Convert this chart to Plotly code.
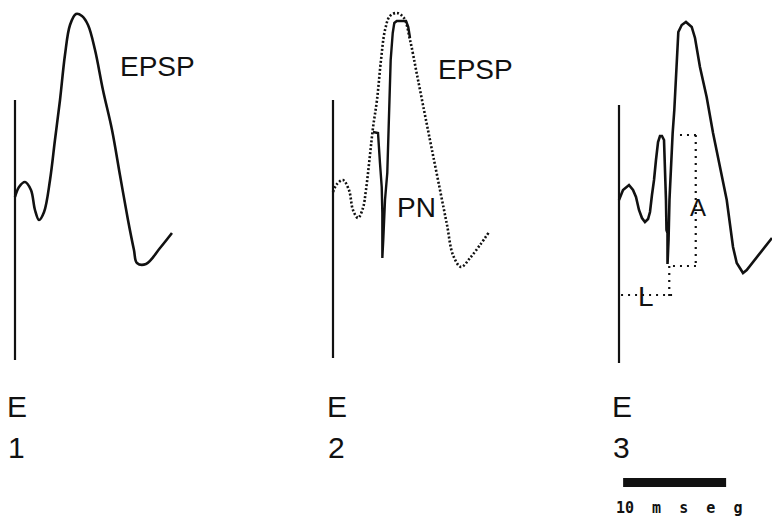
import plotly.graph_objects as go

# ---------------- data (time in ms from stimulus, potential in arbitrary mV) ----------------
# Panel 1: control EPSP
p1_t = [0.0, 0.39, 0.97, 1.55, 1.94, 2.33, 2.82, 3.40, 3.88, 4.37, 4.85, 5.34, 5.92, 6.50,
        7.09, 7.77, 8.54, 9.42, 10.19, 10.97, 11.55, 11.84, 12.72, 14.08, 15.24]
p1_v = [0.3, 1.3, 1.8, 1.0, -1.0, -2.0, -1.2, 2.0, 6.0, 10.0, 14.5, 17.5, 18.6, 18.4,
        17.5, 15.0, 11.0, 7.0, 2.5, -2.0, -5.0, -6.3, -6.4, -4.8, -3.3]

# Panel 2: control EPSP (dotted) and response with population spike PN (solid)
p2_ctrl_t = [0.0, 0.39, 0.97, 1.55, 1.94, 2.43, 2.91, 3.20, 3.59, 3.88, 4.27, 4.66, 5.05,
             5.53, 6.21, 6.89, 7.48, 8.16, 8.93, 9.61, 10.39, 11.07, 11.65, 12.43, 13.30,
             14.27, 15.15]
p2_ctrl_v = [0.8, 1.6, 2.0, 1.0, -1.0, -1.8, -0.8, 1.0, 4.5, 7.2, 10.0, 14.0, 17.0,
             18.4, 18.7, 18.2, 16.0, 12.5, 8.5, 5.0, 1.0, -2.5, -5.5, -6.7, -5.8,
             -4.5, -3.2]
p2_pn_t = [3.88, 4.37, 4.56, 4.73, 4.79, 4.79, 4.88, 5.05, 5.27, 5.37, 5.47, 5.60, 5.80,
           5.95, 6.19, 7.09, 7.31, 7.48]
p2_pn_v = [6.8, 6.7, 3.7, 1.3, -1.3, -5.8, -4.0, 0.0, 2.7, 5.7, 10.0, 14.0, 16.7,
           17.7, 17.9, 17.9, 17.3, 16.2]

# Panel 3: response used to define latency (L) and amplitude (A)
p3_t = [0.0, 0.39, 0.97, 1.36, 1.65, 1.94, 2.23, 2.52, 2.82, 3.01, 3.20, 3.40, 3.59, 3.79,
        3.98, 4.17, 4.37, 4.47, 4.56, 4.61, 4.71, 4.71, 4.81, 4.90, 5.05, 5.21, 5.37,
        5.60, 5.76, 6.09, 6.50, 7.06, 7.38, 7.86, 8.51, 9.13, 9.81, 10.46, 11.07, 11.43,
        12.04, 12.40, 14.85]
p3_v = [0.0, 1.0, 1.5, 1.0, 0.3, -1.0, -1.8, -2.2, -1.9, -1.2, 0.5, 2.0, 4.0, 5.8,
        6.4, 6.4, 6.0, 3.5, 0.0, -3.0, -3.3, -6.4, -4.0, 0.0, 4.0, 6.7, 9.0,
        14.0, 16.8, 17.5, 17.8, 17.3, 16.2, 13.3, 10.3, 6.7, 3.3, 0.0, -4.7, -6.3,
        -7.3, -7.0, -3.8]

# stimulus artefact lines (t = 0): [top, bottom] potentials
stim_v = {1: [10.0, -16.0], 2: [10.0, -15.8], 3: [9.5, -16.3]}

# measurement guides in panel 3
a_top_t, a_top_v = [5.92, 7.86], [6.5, 6.5]
a_vert_t, a_vert_v = [7.45, 7.45], [6.5, -6.6]
a_bot_t, a_bot_v = [5.24, 7.86], [-6.6, -6.6]
l_vert_t, l_vert_v = [4.88, 4.88], [-6.6, -9.6]
l_hor_t, l_hor_v = [0.2, 5.24], [-9.5, -9.5]

scale_ms = 10.0          # scale bar length
scale_start = 0.4
scale_v = -28.25

panel_labels = ["1", "2", "3"]

# ---------------- layout helpers ----------------
W, H = 772, 519
PX_PER_MS = 10.3
PX_PER_MV = 10.0
BASE_PX = 200            # pixel row of 0 mV
panels = {1: (0, 257, 15), 2: (257, 514, 333), 3: (514, 772, 619)}  # left, right, stimulus px

INK = "#111111"
fig = go.Figure()


def add_line(panel, t, v, width=2.5, dash="solid", shape="linear"):
    xa = "x" if panel == 1 else f"x{panel}"
    fig.add_trace(go.Scatter(x=t, y=v, mode="lines", xaxis=xa, yaxis="y",
                             line=dict(color=INK, width=width, dash=dash, shape=shape),
                             hoverinfo="skip", showlegend=False))


for p in (1, 2, 3):
    add_line(p, [0, 0], stim_v[p], width=2.2)

add_line(1, p1_t, p1_v, width=2.6, shape="spline")
add_line(2, p2_ctrl_t, p2_ctrl_v, width=2.6, dash="2px,2px", shape="spline")
add_line(2, p2_pn_t, p2_pn_v, width=2.4)
add_line(3, p3_t, p3_v, width=2.6)

dots = "2px,5px"
for tt, vv in [(a_top_t, a_top_v), (a_vert_t, a_vert_v), (a_bot_t, a_bot_v),
               (l_vert_t, l_vert_v), (l_hor_t, l_hor_v)]:
    add_line(3, tt, vv, width=2.2, dash=dots)

add_line(3, [scale_start, scale_start + scale_ms], [scale_v, scale_v], width=9)

axis_common = dict(visible=False, showgrid=False, zeroline=False, fixedrange=True)
layout_axes = {}
for p, (l, r, s) in panels.items():
    name = "xaxis" if p == 1 else f"xaxis{p}"
    layout_axes[name] = dict(domain=[l / W, r / W],
                             range=[(l - s) / PX_PER_MS, (r - s) / PX_PER_MS],
                             anchor="y", **axis_common)
layout_axes["yaxis"] = dict(domain=[0, 1],
                            range=[(BASE_PX - H) / PX_PER_MV, BASE_PX / PX_PER_MV],
                            **axis_common)

font_main = "Liberation Sans, Arial, sans-serif"


def label(text, x, y, size, family=font_main, color=INK):
    fig.add_annotation(text=text, x=x / W, y=1 - y / H, xref="paper", yref="paper",
                       showarrow=False, xanchor="center", yanchor="middle",
                       font=dict(family=family, size=size, color=color))


label("EPSP", 157, 66, 28)
label("EPSP", 475, 69, 28)
label("PN", 416, 207, 28)
label("A", 698, 207, 24)
label("L", 646, 296, 28)
for p, lab in zip((1, 2, 3), panel_labels):
    cx = {1: 17, 2: 337, 3: 622}[p]
    label("E", cx, 406, 30)
    label(lab, cx - 1, 447, 30)
label("<b>10  m  s  e  g</b>", 679, 508, 15, family="DejaVu Sans Mono, monospace")

fig.update_layout(width=W, height=H, autosize=False,
                  margin=dict(l=0, r=0, t=0, b=0, pad=0),
                  paper_bgcolor="white", plot_bgcolor="white",
                  showlegend=False, **layout_axes)

fig.write_html("out.html")
